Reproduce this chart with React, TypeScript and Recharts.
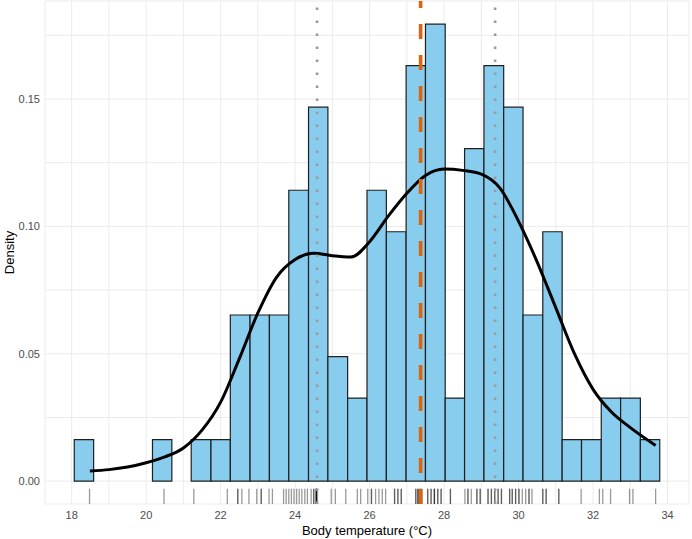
import React from "react";
import {
  ComposedChart,
  Line,
  XAxis,
  YAxis,
  CartesianGrid,
  ReferenceArea,
  ReferenceLine,
} from "recharts";

// histogram bins (edges in °C) and their densities
const binEdges = [
  18.07, 18.59, 19.12, 19.64, 20.17, 20.69, 21.21, 21.74, 22.26, 22.79, 23.31,
  23.83, 24.36, 24.88, 25.41, 25.93, 26.45, 26.98, 27.5, 28.03, 28.55, 29.07,
  29.6, 30.12, 30.65, 31.17, 31.69, 32.22, 32.74, 33.27, 33.79,
];
const binDensity = [
  0.0163, 0, 0, 0, 0.0163, 0, 0.0163, 0.0163, 0.0652, 0.0652, 0.0652, 0.1142,
  0.1468, 0.0489, 0.0326, 0.1142, 0.0979, 0.1631, 0.1794, 0.0326, 0.1305,
  0.1631, 0.1468, 0.0652, 0.0979, 0.0163, 0.0163, 0.0326, 0.0326, 0.0163,
];

// kernel density curve
const densityX = [
  18.49, 19.0, 19.5, 20.0, 20.5, 21.0, 21.5, 22.0, 22.5, 23.0, 23.5, 24.0, 24.5,
  25.0, 25.5, 26.0, 26.5, 27.0, 27.5, 28.0, 28.5, 29.0, 29.5, 30.0, 30.5, 31.0,
  31.5, 32.0, 32.5, 33.0, 33.68,
];
const densityY = [
  0.004, 0.0045, 0.0055, 0.0072, 0.0095, 0.013, 0.02, 0.031, 0.048, 0.066,
  0.08, 0.087, 0.0895, 0.0885, 0.088, 0.094, 0.104, 0.113, 0.12, 0.1225, 0.122,
  0.1205, 0.115, 0.102, 0.086, 0.068, 0.05, 0.036, 0.027, 0.021, 0.014,
];

// individual observations (rug)
const rugTemps = [
  18.48, 20.48, 21.28, 22.18, 22.46, 22.46, 22.57, 22.76, 22.97, 23.09, 23.09,
  23.3, 23.39, 23.69, 23.76, 23.83, 23.9, 23.97, 24.04, 24.11, 24.18, 24.26,
  24.33, 24.43, 24.5, 24.5, 24.57, 24.57, 24.57, 24.57, 24.57, 24.6, 24.97,
  25.08, 25.36, 25.67, 25.76, 25.95, 26.05, 26.05, 26.16, 26.25, 26.34, 26.43,
  26.67, 26.67, 26.76, 26.76, 26.85, 26.85, 27.24, 27.24, 27.3, 27.3, 27.3,
  27.36, 27.36, 27.36, 27.4, 27.4, 27.56, 27.56, 27.65, 27.65, 27.74, 27.74,
  27.74, 27.83, 27.83, 27.92, 27.92, 28.17, 28.17, 28.56, 28.64, 28.64, 28.73,
  28.88, 28.88, 28.97, 28.97, 29.18, 29.18, 29.27, 29.27, 29.36, 29.36, 29.45,
  29.45, 29.54, 29.54, 29.76, 29.76, 29.83, 29.83, 29.92, 29.92, 30.01, 30.01,
  30.1, 30.19, 30.28, 30.28, 30.36, 30.65, 30.65, 30.74, 30.74, 31.08, 31.08,
  31.68, 32.17, 32.26, 32.47, 32.98, 33.07, 33.68,
];

const xMajorTicks = [18, 20, 22, 24, 26, 28, 30, 32, 34];
const xMinorTicks = [19, 21, 23, 25, 27, 29, 31, 33];
const yMajorTicks = [0, 0.05, 0.1, 0.15];
const yMinorTicks = [0.025, 0.075, 0.125, 0.175];

const lowerQuartile = 24.59;
const meanTemp = 27.37;
const upperQuartile = 29.37;

const densityData = densityX.map((x, i) => ({ x, y: densityY[i] }));
const xTicks = [...xMajorTicks, ...xMinorTicks].sort((a, b) => a - b);
const yTicks = [...yMajorTicks, ...yMinorTicks].sort((a, b) => a - b);

const font = "'Liberation Sans', Arial, sans-serif";

const YTitle = ({ viewBox }: any) => {
  const cx = viewBox.x + 9;
  const cy = viewBox.y + viewBox.height / 2;
  return (
    <text
      x={cx}
      y={cy}
      transform={`rotate(-90 ${cx} ${cy})`}
      textAnchor="middle"
      dominantBaseline="central"
      fontSize={13}
      fill="#000"
      fontFamily={font}
    >
      Density
    </text>
  );
};

export default function App() {
  return (
    <>
      <style>{"body{margin:0}"}</style>
      <ComposedChart
        width={692}
        height={539}
        data={densityData}
        margin={{ top: 1, right: 3, bottom: 0, left: 0 }}
        style={{ fontFamily: font }}
      >
        <CartesianGrid stroke="#EBEBEB" strokeWidth={1} />
        <XAxis
          dataKey="x"
          type="number"
          domain={[17.284, 34.576]}
          allowDataOverflow
          ticks={xTicks}
          interval={0}
          tickFormatter={(v: number) => (xMajorTicks.includes(v) ? String(v) : "")}
          axisLine={false}
          tickLine={false}
          tickSize={0}
          tickMargin={7}
          height={35}
          tick={{ fill: "#4D4D4D", fontSize: 11 }}
          label={{
            value: "Body temperature (°C)",
            position: "insideBottom",
            offset: 4,
            fill: "#000",
            fontSize: 13,
          }}
        />
        <YAxis
          type="number"
          domain={[-0.009, 0.1885]}
          allowDataOverflow
          ticks={yTicks}
          interval={0}
          tickFormatter={(v: number) => (yMajorTicks.includes(v) ? v.toFixed(2) : "")}
          axisLine={false}
          tickLine={false}
          tickSize={0}
          tickMargin={5}
          width={45}
          tick={{ fill: "#4D4D4D", fontSize: 11 }}
          label={<YTitle />}
        />
        {binDensity.map((d, i) =>
          d > 0 ? (
            <ReferenceArea
              key={`bin-${i}`}
              x1={binEdges[i]}
              x2={binEdges[i + 1]}
              y1={0}
              y2={d}
              fill="#88CCEE"
              fillOpacity={1}
              stroke="#1f1f1f"
              strokeWidth={1.2}
              strokeOpacity={1}
            />
          ) : null
        )}
        <Line
          dataKey="y"
          type="monotone"
          stroke="#000"
          strokeWidth={3}
          dot={false}
          activeDot={false}
          isAnimationActive={false}
        />
        {rugTemps.map((t, i) => (
          <ReferenceLine
            key={`rug-${i}`}
            segment={[
              { x: t, y: -0.009 },
              { x: t, y: -0.003 },
            ]}
            stroke="#000"
            strokeOpacity={0.4}
            strokeWidth={1.3}
          />
        ))}
        <ReferenceLine x={lowerQuartile} stroke="#9A9A9A" strokeOpacity={1} strokeWidth={2.6} strokeDasharray="2.6 10.4" />
        <ReferenceLine x={upperQuartile} stroke="#9A9A9A" strokeOpacity={1} strokeWidth={2.6} strokeDasharray="2.6 10.4" />
        <ReferenceLine x={meanTemp} stroke="#E0620A" strokeOpacity={1} strokeWidth={3.6} strokeDasharray="15 16" />
      </ComposedChart>
    </>
  );
}
